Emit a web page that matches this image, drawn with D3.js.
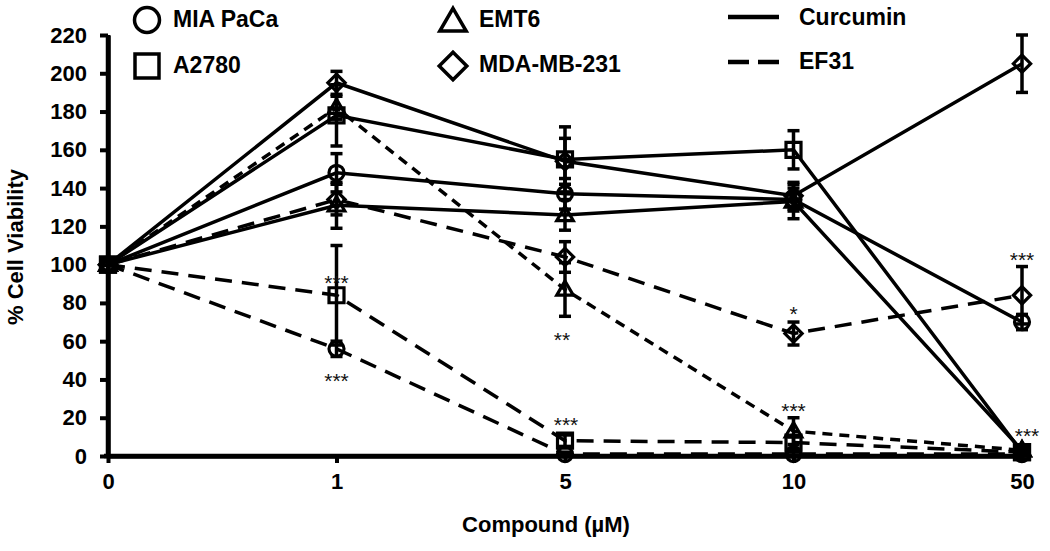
<!DOCTYPE html>
<html><head><meta charset="utf-8">
<script src="https://cdn.jsdelivr.net/npm/d3@7"></script>
<style>
html,body{margin:0;padding:0;background:#fff;}
svg{display:block;font-family:"Liberation Sans",Arial,sans-serif;}
</style></head>
<body>
<svg id="chart" width="1050" height="551"></svg>
<script>
// ---------- data ----------
const categories = ["0", "1", "5", "10", "50"];
const yTicks = [0, 20, 40, 60, 80, 100, 120, 140, 160, 180, 200, 220];
const cellLines = ["MIA PaCa", "A2780", "EMT6", "MDA-MB-231"];
const compounds = ["Curcumin", "EF31"];

const miaCurcumin   = [100, 148, 137, 134, 70];
const miaCurcuminErr= [0, 10, 8, 6, 4];
const a2780Curcumin   = [100, 178, 155, 160, 2];
const a2780CurcuminErr= [0, 16, 17, 10, 2];
const emt6Curcumin   = [100, 131, 126, 133, 3];
const emt6CurcuminErr= [0, 12, 8, 9, 2];
const mdaCurcumin   = [100, 195, 154, 136, 205];
const mdaCurcuminErr= [0, 6, 12, 7, 15];

const miaEF31   = [100, 56, 1, 1, 1];
const miaEF31Err= [0, 4, 1, 1, 1];
const a2780EF31   = [100, 84, 8, 7, 2];
const a2780EF31Err= [0, 26, 3, 3, 1];
const emt6EF31   = [100, 182, 87, 13, 3];
const emt6EF31Err= [0, 6, 14, 7, 2];
const mdaEF31   = [100, 134, 104, 64, 84];
const mdaEF31Err= [0, 8, 8, 6, 15];

// significance labels: category, value position, label
const sigCats   = ["1", "1", "5", "5", "10", "10", "50", "50"];
const sigValues = [93, 42, 63, 19, 77, 26, 105, 13];
const sigLabels = ["***", "***", "**", "***", "*", "***", "***", "***"];
const sigShift  = [0, 0, -3, 1, 0, 0, 0, 5];

// ---------- build series ----------
const shapes = {"MIA PaCa":"circle","A2780":"square","EMT6":"triangle","MDA-MB-231":"diamond"};
const series = [
  {line:"MIA PaCa", comp:"Curcumin", vals:miaCurcumin, err:miaCurcuminErr},
  {line:"A2780", comp:"Curcumin", vals:a2780Curcumin, err:a2780CurcuminErr},
  {line:"EMT6", comp:"Curcumin", vals:emt6Curcumin, err:emt6CurcuminErr},
  {line:"MDA-MB-231", comp:"Curcumin", vals:mdaCurcumin, err:mdaCurcuminErr},
  {line:"MIA PaCa", comp:"EF31", vals:miaEF31, err:miaEF31Err},
  {line:"A2780", comp:"EF31", vals:a2780EF31, err:a2780EF31Err},
  {line:"EMT6", comp:"EF31", vals:emt6EF31, err:emt6EF31Err, shortDash:true},
  {line:"MDA-MB-231", comp:"EF31", vals:mdaEF31, err:mdaEF31Err}
];

// ---------- chart ----------
const svg = d3.select("#chart");
const x = d3.scalePoint().domain(categories).range([108, 1022]);
const y = d3.scaleLinear().domain([0, 220]).range([456, 35]);

function markerPath(shape, r) {
  const p = d3.path();
  if (shape === "circle") { p.moveTo(r, 0); p.arc(0, 0, r, 0, 2 * Math.PI); }
  else if (shape === "square") { p.rect(-r, -r, 2 * r, 2 * r); }
  else if (shape === "triangle") { const h = r * 1.9; p.moveTo(0, -h * 0.6); p.lineTo(r * 1.1, h * 0.4); p.lineTo(-r * 1.1, h * 0.4); p.closePath(); }
  else { const d = r * 1.15; p.moveTo(0, -d); p.lineTo(d, 0); p.lineTo(0, d); p.lineTo(-d, 0); p.closePath(); }
  return p.toString();
}

// axes
const yAxis = d3.axisLeft(y).tickValues(yTicks).tickSize(8).tickSizeOuter(0).tickPadding(13);
const gy = svg.append("g").attr("transform", "translate(108,0)").call(yAxis);
const xAxis = d3.axisBottom(x).tickSize(7).tickSizeOuter(0).tickPadding(10);
const gx = svg.append("g").attr("transform", "translate(0,456)").call(xAxis);
[gx, gy].forEach(g => {
  g.select(".domain").attr("stroke", "#000").attr("stroke-width", 4.5);
  g.selectAll(".tick line").attr("stroke", "#000").attr("stroke-width", 4);
  g.selectAll(".tick text").attr("fill", "#000").attr("font-size", 22).attr("font-weight", "bold")
    .attr("font-family", "'Liberation Sans', Arial, sans-serif");
});
// extend axis lines a little at the corner
svg.append("line").attr("x1", 104).attr("x2", 1024).attr("y1", y(0)).attr("y2", y(0)).attr("stroke", "#000").attr("stroke-width", 4.5);
svg.append("line").attr("x1", 108).attr("x2", 108).attr("y1", y(220)).attr("y2", y(0) + 2).attr("stroke", "#000").attr("stroke-width", 4.5);

// axis titles
svg.append("text").attr("x", 546).attr("y", 532).attr("text-anchor", "middle")
  .attr("font-size", 22).attr("font-weight", "bold").text("Compound (µM)");
svg.append("text").attr("transform", "translate(23,247) rotate(-90)").attr("text-anchor", "middle")
  .attr("font-size", 22).attr("font-weight", "bold").text("% Cell Viability");

// lines
const lineGen = d3.line().x((d, i) => x(categories[i])).y(d => y(d));
const plot = svg.append("g");
series.forEach(s => {
  plot.append("path").attr("d", lineGen(s.vals)).attr("fill", "none").attr("stroke", "#000")
    .attr("stroke-width", 3.5)
    .attr("stroke-dasharray", s.comp === "EF31" ? (s.shortDash ? "10,7" : "17,10") : null);
});
// error bars
series.forEach(s => {
  s.vals.forEach((v, i) => {
    const e = s.err[i];
    if (!e) return;
    const cx = x(categories[i]);
    const g = plot.append("g").attr("stroke", "#000").attr("stroke-width", 3.5);
    g.append("line").attr("x1", cx).attr("x2", cx).attr("y1", y(v + e)).attr("y2", y(v - e));
    g.append("line").attr("x1", cx - 6).attr("x2", cx + 6).attr("y1", y(v + e)).attr("y2", y(v + e));
    g.append("line").attr("x1", cx - 6).attr("x2", cx + 6).attr("y1", y(v - e)).attr("y2", y(v - e));
  });
});
// markers
series.forEach(s => {
  s.vals.forEach((v, i) => {
    plot.append("path").attr("d", markerPath(shapes[s.line], 7.5))
      .attr("transform", `translate(${x(categories[i])},${y(v)})`)
      .attr("fill", "none").attr("stroke", "#000").attr("stroke-width", 3.2);
  });
});
// significance asterisks
sigLabels.forEach((lab, i) => {
  svg.append("text").attr("x", x(sigCats[i]) + sigShift[i]).attr("y", y(sigValues[i]) + 12)
    .attr("text-anchor", "middle").attr("font-size", 21).attr("fill", "#111").text(lab);
});

// legend: cell lines
const legPos = [[147, 20, 173, 27], [147, 66, 173, 73], [453, 22, 479, 27], [453, 66, 479, 72]];
cellLines.forEach((name, i) => {
  const [mx, my, tx, ty] = legPos[i];
  svg.append("path").attr("d", markerPath(shapes[name], name === "MIA PaCa" ? 12.5 : 12))
    .attr("transform", `translate(${mx},${my})`).attr("fill", "none").attr("stroke", "#000").attr("stroke-width", 3.5);
  svg.append("text").attr("x", tx).attr("y", ty).attr("font-size", 23).attr("font-weight", "bold").text(name);
});
// legend: compounds
const compPos = [[17, 25], [62, 69]];
compounds.forEach((name, i) => {
  const [ly, ty] = compPos[i];
  svg.append("line").attr("x1", 728).attr("x2", 779).attr("y1", ly).attr("y2", ly)
    .attr("stroke", "#000").attr("stroke-width", 4.5)
    .attr("stroke-dasharray", name === "EF31" ? "21,9" : null);
  svg.append("text").attr("x", 799).attr("y", ty).attr("font-size", 23).attr("font-weight", "bold").text(name);
});
</script>
</body></html>
